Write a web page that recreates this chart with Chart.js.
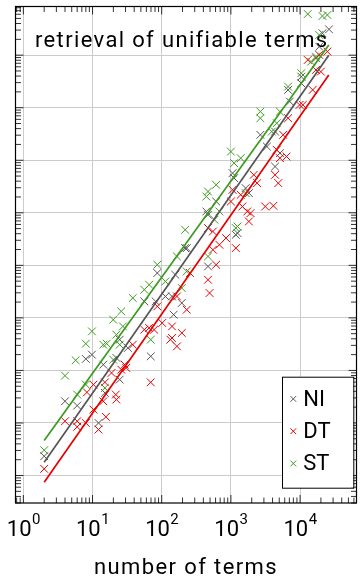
<!DOCTYPE html>
<html><head><meta charset="utf-8">
<style>html,body{margin:0;padding:0;background:#fff;}canvas{display:block;}</style>
<script src="https://cdn.jsdelivr.net/npm/chart.js@4.4.1/dist/chart.umd.min.js"></script>
</head><body>
<canvas id="c" width="363" height="577"></canvas>
<script>
const seriesLabels = ['NI', 'DT', 'ST'];
const titleText = 'retrieval of unifiable terms';
const xAxisTitle = 'number of terms';
const xTickValues = [1, 10, 100, 1000, 10000];
const xTickLabels = [['10','0'],['10','1'],['10','2'],['10','3'],['10','4']];
const yTickValues = [1, 10, 100, 1e3, 1e4, 1e5, 1e6, 1e7, 1e8];

const niX = [2, 9.8, 8, 4, 6, 12.2, 14.3, 22.1, 15.1, 24.7, 86.3, 56, 81.7, 113.2, 148.9, 24.7, 32.4, 69.4, 217.8, 157, 140.9, 1057, 1114, 612, 442, 467, 1178, 230, 1820, 1633, 1245, 467, 195, 10400, 7096, 2667, 4350, 5117, 4350, 3316, 26200, 21050, 18920, 16980, 10400, 6714];
const niY = [2.33, 199.6, 165.5, 25.9, 21.4, 10.0, 128.9, 172.9, 37.4, 66.8, 7140, 2060, 2060, 2564, 1151, 385, 268, 185.4, 21300, 6625, 2564, 568600, 456800, 164000, 105900, 91600, 38200, 21300, 237000, 295000, 41100, 9530, 1920, 29200000, 13100000, 3040000, 3510000, 1365000, 758600, 1820000, 310000000, 261000000, 145000000, 87300000, 39000000, 21800000];

const dtX = [2, 4, 6, 6, 8, 12.2, 15.6, 10.3, 8.3, 21.7, 22.1, 14.3, 26, 30.7, 18.8, 15.1, 10.3, 86.3, 65.8, 56, 77.5, 101.6, 140.9, 140.9, 195.4, 166, 38.2, 29.1, 166, 230, 256.3, 1057, 1387, 1000, 1466, 1726, 1820, 467, 549.5, 849, 682, 549.5, 1178, 612, 69.4, 133.3, 3135, 4113, 1923, 467, 492, 9840, 6714, 5702, 4594, 5117, 6368, 4350, 4842, 2393, 2140, 24790, 18920, 12910, 16980, 20000, 15210, 10960];
const dtY = [1.34, 10.8, 10.8, 8.43, 10.0, 7.49, 13.1, 18.0, 38.3, 34.7, 27.9, 25.9, 103.5, 111.6, 89.6, 59.4, 53.7, 1655, 643, 597, 597, 800, 689, 415, 516, 287, 309, 129, 2564, 1432, 7140, 273700, 220000, 164000, 131800, 105900, 68400, 51200, 44100, 33000, 24600, 19800, 21300, 10260, 59.4, 385, 131800, 135900, 98600, 5320, 2972, 11300000, 6310000, 3040000, 1580000, 1096000, 1176000, 527500, 367000, 367000, 527500, 117000000, 101000000, 81000000, 52300000, 48600000, 21800000, 11300000];

const stX = [2, 4, 5.7, 8, 8, 6, 14.3, 15.1, 16, 24.7, 19.9, 9.8, 19.9, 26, 27.5, 22.1, 38.2, 56, 65.8, 69.4, 86.3, 113, 218, 166, 467, 442, 612, 682, 579, 467, 1178, 1000, 1387, 1114, 1633, 1245, 230, 195, 2667, 2667, 5117, 4594, 3902, 6714, 10400, 12910, 21050, 24790, 18920, 16980, 14420];
const stY = [3.03, 79.6, 156, 323, 53.7, 34.7, 309, 46.5, 323, 309, 160, 554, 925, 1330, 689, 480, 2390, 3436, 4277, 385, 10260, 4940, 47500, 14760, 254000, 204000, 340600, 105900, 73600, 14760, 51200, 1460000, 1096000, 881000, 237000, 54900, 7660, 3700, 8430000, 6310000, 8430000, 5070000, 3510000, 25200000, 45300000, 607000000, 556000000, 581000000, 242000000, 93700000, 75200000];

const fitX = [2, 26000];
const fitNI = [1.79, 1.0e8];
const fitDT = [0.746, 4.19e7];
const fitST = [4.62, 1.56e8];

const colors = {NI: '#555555', DT: '#e60000', ST: '#3c9b1e'};
const FONT = 'Roboto';

function pts(xs, ys) { return xs.map((x, i) => ({x: x, y: ys[i]})); }

function scatterDs(label, xs, ys, order) {
  return {label: label, data: pts(xs, ys), pointStyle: 'crossRot', pointRadius: 5.5,
    pointBorderWidth: 1, borderColor: colors[label], backgroundColor: colors[label],
    showLine: false, order: order};
}
function lineDs(key, ys) {
  return {label: '', data: pts(fitX, ys), showLine: true, pointRadius: 0,
    borderColor: colors[key], borderWidth: 1.7, fill: false, order: 0};
}

const decor = {
  id: 'decor',
  beforeDatasetsDraw(chart) {
    const ctx = chart.ctx;
    ctx.save();
    ctx.font = '22px ' + FONT;
    ctx.letterSpacing = '1.35px';
    ctx.fillStyle = '#000';
    ctx.textAlign = 'left';
    ctx.textBaseline = 'alphabetic';
    ctx.fillText(titleText, 35, 46.7);
    ctx.restore();
  },
  afterDraw(chart) {
    const ctx = chart.ctx, a = chart.chartArea;
    const xs = chart.scales.x, ys = chart.scales.y;
    ctx.save();
    ctx.strokeStyle = '#000';
    ctx.lineWidth = 1.2;
    ctx.strokeRect(a.left, a.top, a.right - a.left, a.bottom - a.top);
    ctx.lineWidth = 0.8;
    ctx.beginPath();
    for (let k = -1; k <= 5; k++) {
      for (let m = 1; m <= 9; m++) {
        const v = m * Math.pow(10, k);
        if (v < xs.min || v > xs.max) continue;
        const p = xs.getPixelForValue(v);
        const L = m === 1 ? 8 : 5.5;
        ctx.moveTo(p, a.bottom); ctx.lineTo(p, a.bottom - L);
        ctx.moveTo(p, a.top); ctx.lineTo(p, a.top + L);
      }
    }
    for (let k = -1; k <= 9; k++) {
      for (let m = 1; m <= 9; m++) {
        const v = m * Math.pow(10, k);
        if (v < ys.min || v > ys.max) continue;
        const p = ys.getPixelForValue(v);
        const L = m === 1 ? 8 : 5.5;
        ctx.moveTo(a.left, p); ctx.lineTo(a.left + L, p);
        ctx.moveTo(a.right, p); ctx.lineTo(a.right - L, p);
      }
    }
    ctx.stroke();
    ctx.fillStyle = '#000';
    ctx.textBaseline = 'alphabetic';
    ctx.textAlign = 'left';
    xTickValues.forEach((v, i) => {
      const p = xs.getPixelForValue(v);
      const [base, ex] = xTickLabels[i];
      ctx.font = '22px ' + FONT;
      const wb = ctx.measureText(base).width;
      ctx.font = '15px ' + FONT;
      const we = ctx.measureText(ex).width;
      const x0 = p - (wb + we) / 2;
      ctx.font = '22px ' + FONT;
      ctx.fillText(base, x0, 536);
      ctx.font = '15px ' + FONT;
      ctx.fillText(ex, x0 + wb + 0.5, 524);
    });
    ctx.font = '22px ' + FONT;
    ctx.letterSpacing = '1.4px';
    ctx.textAlign = 'center';
    ctx.fillText(xAxisTitle, (a.left + a.right) / 2, 574);
    ctx.letterSpacing = '0px';
    const bx = 282, by = 376.7, bw = 71.3, bh = 111;
    ctx.fillStyle = '#fff';
    ctx.fillRect(bx, by, bw, bh);
    ctx.strokeStyle = '#000';
    ctx.lineWidth = 1;
    ctx.strokeRect(bx + 0.5, by + 0.5, bw, bh);
    const items = chart.data.datasets.filter(d => d.label);
    seriesLabels.forEach((lab, i) => {
      const d = items.find(t => t.label === lab);
      const base = 405.7 + i * 32.3;
      const cy = base - 6.8, cx = 293.3, r = 2.9;
      ctx.strokeStyle = d.borderColor;
      ctx.lineWidth = 1;
      ctx.beginPath();
      ctx.moveTo(cx - r, cy - r); ctx.lineTo(cx + r, cy + r);
      ctx.moveTo(cx - r, cy + r); ctx.lineTo(cx + r, cy - r);
      ctx.stroke();
      ctx.fillStyle = '#000';
      ctx.font = '22px ' + FONT;
      ctx.textAlign = 'left';
      ctx.fillText(d.label, 303.3, base);
    });
    ctx.restore();
  }
};

new Chart(document.getElementById('c'), {
  type: 'scatter',
  data: {
    datasets: [
      scatterDs('NI', niX, niY, 3),
      scatterDs('DT', dtX, dtY, 2),
      scatterDs('ST', stX, stY, 1),
      lineDs('NI', fitNI),
      lineDs('DT', fitDT),
      lineDs('ST', fitST)
    ]
  },
  options: {
    responsive: false,
    animation: false,
    devicePixelRatio: 1,
    layout: {padding: {left: 15.5, top: 6.5, right: 0, bottom: 74}},
    plugins: {legend: {display: false}, tooltip: {enabled: false}, title: {display: false}},
    scales: {
      x: {
        type: 'logarithmic', min: 0.770, max: 65400,
        afterBuildTicks: s => { s.ticks = xTickValues.map(v => ({value: v})); },
        ticks: {display: false},
        grid: {color: '#cccccc', lineWidth: 1, drawTicks: false},
        border: {display: false}
      },
      y: {
        type: 'logarithmic', min: 0.3067, max: 8.43e8,
        afterBuildTicks: s => { s.ticks = yTickValues.map(v => ({value: v})); },
        ticks: {display: false},
        grid: {color: '#cccccc', lineWidth: 1, drawTicks: false},
        border: {display: false}
      }
    }
  },
  plugins: [decor]
});
</script>
</body></html>
